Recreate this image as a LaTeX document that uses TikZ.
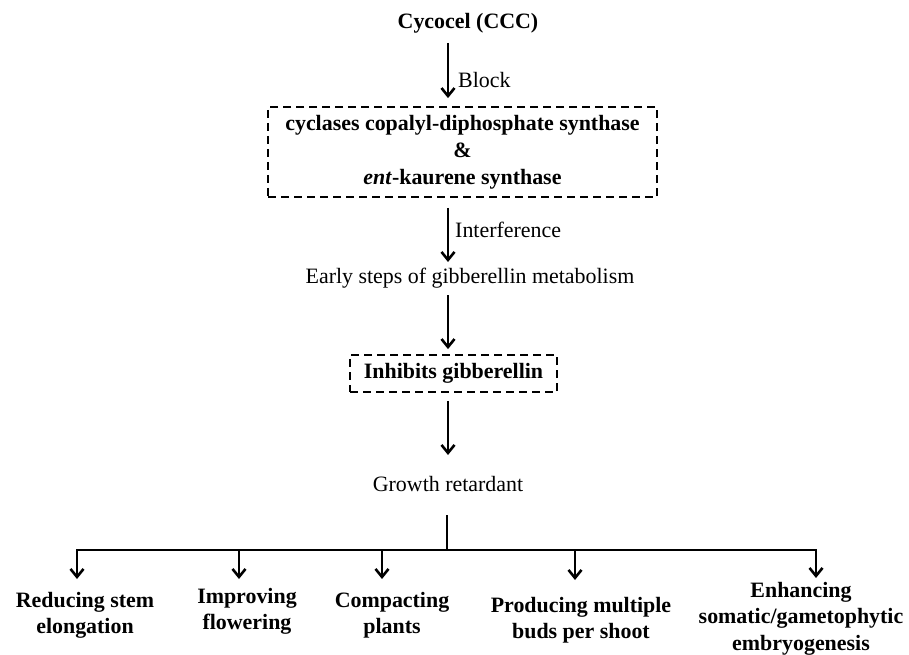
\documentclass[tikz,border=0pt]{standalone}
\usepackage{fontspec}
\setmainfont{Liberation Serif}
\usetikzlibrary{arrows.meta}
\begin{document}
\begin{tikzpicture}[x=1bp,y=-1bp,
  lbl/.style={inner sep=0pt, font=\fontsize{22}{26.5}\selectfont, align=center},
  blbl/.style={inner sep=0pt, font=\fontsize{22}{26.5}\selectfont\bfseries, align=center},
  dbox/.style={draw, line width=1.8bp, dash pattern=on 8bp off 5bp},
  arr/.style={line width=2.4bp, -{Straight Barb[length=8bp,width=13bp,line width=2.6bp]}},
  ln/.style={line width=2.4bp}]
\useasboundingbox (0,0) rectangle (909,655);

% spine
\coordinate (spine) at (448,0);

% nodes
\node[blbl, anchor=base] (ccc) at (468,29) {Cycocel (CCC)};
\node[dbox, blbl, minimum width=389bp, minimum height=90bp, font=\fontsize{22}{27}\selectfont\bfseries] (box1) at (462.5,152)
  {cyclases copalyl-diphosphate synthase\\ \&\\ \textit{ent}-kaurene synthase};
\node[lbl, anchor=base west] (block) at (458,88) {Block};
\node[lbl, anchor=base west] (interf) at (455,237) {Interference};
\node[lbl, anchor=base] (early) at (470,283) {Early steps of gibberellin metabolism};
\node[dbox, blbl, minimum width=207bp, minimum height=37bp] (box2) at (453.5,373.5) {Inhibits gibberellin};
\node[lbl, anchor=base] (growth) at (448,491) {Growth retardant};

% outcome labels
\node[blbl, anchor=north] (red) at (85,592) {Reducing stem\\elongation};
\node[blbl, anchor=north] (imp) at (247,588) {Improving\\flowering};
\node[blbl, anchor=north] (comp) at (392,592) {Compacting\\plants};
\node[blbl, anchor=north] (prod) at (581,597) {Producing multiple\\buds per shoot};
\node[blbl, anchor=north] (enh) at (801,582) {Enhancing\\somatic/gametophytic\\embryogenesis};

% main arrows
\draw[arr] ([yshift=-14bp]ccc.base -| spine) -- ([yshift=8bp]box1.north -| spine);
\draw[arr] ([yshift=-10bp]box1.south -| spine) -- ([yshift=21bp]early.base -| spine);
\draw[arr] ([yshift=-12bp]early.base -| spine) -- ([yshift=5bp]box2.north -| spine);
\draw[arr] ([yshift=-8bp]box2.south -| spine) -- ([yshift=36bp]growth.base -| spine);

% branching
\coordinate (hub) at (447,550);
\coordinate (b1) at (77,550);
\coordinate (b2) at (239,550);
\coordinate (b3) at (382,550);
\coordinate (b4) at (575,550);
\coordinate (b5) at (816,550);
\draw[ln] ([yshift=-24bp]growth.base -| hub) -- (hub);
\draw[ln, line cap=rect] (b1) -- (b5);
\draw[arr] (b1) -- ([yshift=13bp]red.north -| b1);
\draw[arr] (b2) -- ([yshift=9bp]imp.north -| b2);
\draw[arr] (b3) -- ([yshift=13bp]comp.north -| b3);
\draw[arr] (b4) -- ([yshift=17bp]prod.north -| b4);
\draw[arr] (b5) -- ([yshift=4bp]enh.north -| b5);
\end{tikzpicture}
\end{document}
